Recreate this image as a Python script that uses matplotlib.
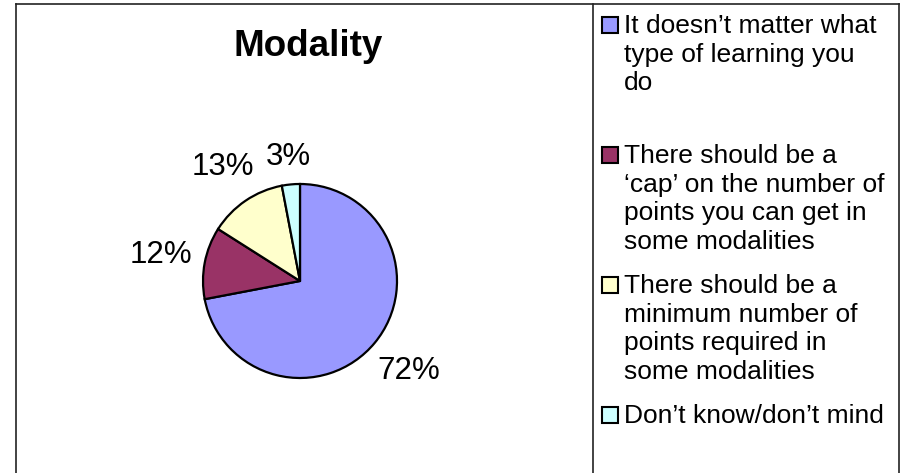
import numpy as np
import matplotlib.pyplot as plt
from matplotlib.lines import Line2D
from matplotlib.patches import Rectangle

plt.rcParams['font.family'] = ['Liberation Sans', 'DejaVu Sans']

# data
title = 'Modality'
labels = [
    'It doesn\u2019t matter what\ntype of learning you\ndo',
    'There should be a\n\u2018cap\u2019 on the number of\npoints you can get in\nsome modalities',
    'There should be a\nminimum number of\npoints required in\nsome modalities',
    'Don\u2019t know/don\u2019t mind',
]
values = [72, 12, 13, 3]
colors = ['#9999FF', '#993366', '#FFFFCC', '#CCFFFF']

W, H = 901, 473


def fx(px):
    return px / W


def fy(py):
    return 1 - py / H


def main():
    fig = plt.figure(figsize=(W / 100, H / 100), dpi=100)

    # outer frame and divider
    for xs, ys in [((15.5, 15.5), (H + 5, 4.5)),
                   ((15.5, 898.5), (4.5, 4.5)),
                   ((898.5, 898.5), (4.5, H + 5)),
                   ((593, 593), (4.5, H + 5))]:
        fig.add_artist(Line2D([fx(x) for x in xs], [fy(y) for y in ys],
                              color='#222222', lw=1.2))

    fig.text(fx(308), fy(46), title, fontsize=26.5, weight='bold',
             ha='center', va='center')

    # pie
    r_px = 97
    cx, cy = 300, 281
    ax = fig.add_axes([fx(cx - r_px), fy(cy + r_px), 2 * r_px / W, 2 * r_px / H])
    wedges, _, autotexts = ax.pie(values, colors=colors, startangle=90,
                                  counterclock=False, autopct='%1.0f%%',
                                  wedgeprops=dict(edgecolor='black', linewidth=1.6),
                                  textprops=dict(fontsize=22.5))
    ax.set_xlim(-1, 1)
    ax.set_ylim(-1, 1)
    ax.axis('off')

    # push labels outside the pie like Excel does
    fig.canvas.draw()
    renderer = fig.canvas.get_renderer()
    gap = 0.11
    for w, t in zip(wedges, autotexts):
        ang = np.deg2rad((w.theta1 + w.theta2) / 2)
        bb = t.get_window_extent(renderer)
        hw, hh = bb.width / 2 / r_px, bb.height / 2 / r_px
        d = 1 + gap + hw * abs(np.cos(ang)) + hh * abs(np.sin(ang))
        t.set_position((d * np.cos(ang), d * np.sin(ang)))
        t.set_ha('center')
        t.set_va('center')
        t.set_clip_on(False)

    # legend
    for i, (lab, col) in enumerate(zip(labels, colors)):
        top = 14 + 130 * i
        fig.add_artist(Rectangle((fx(602), fy(top + 19)), 16 / W, 16 / H,
                                 facecolor=col, edgecolor='black', lw=1.5))
        fig.text(fx(624), fy(top), lab, fontsize=19, ha='left',
                 va='top', linespacing=1.24)

    fig.savefig('out.png', dpi=100)


if __name__ == "__main__":
    main()
